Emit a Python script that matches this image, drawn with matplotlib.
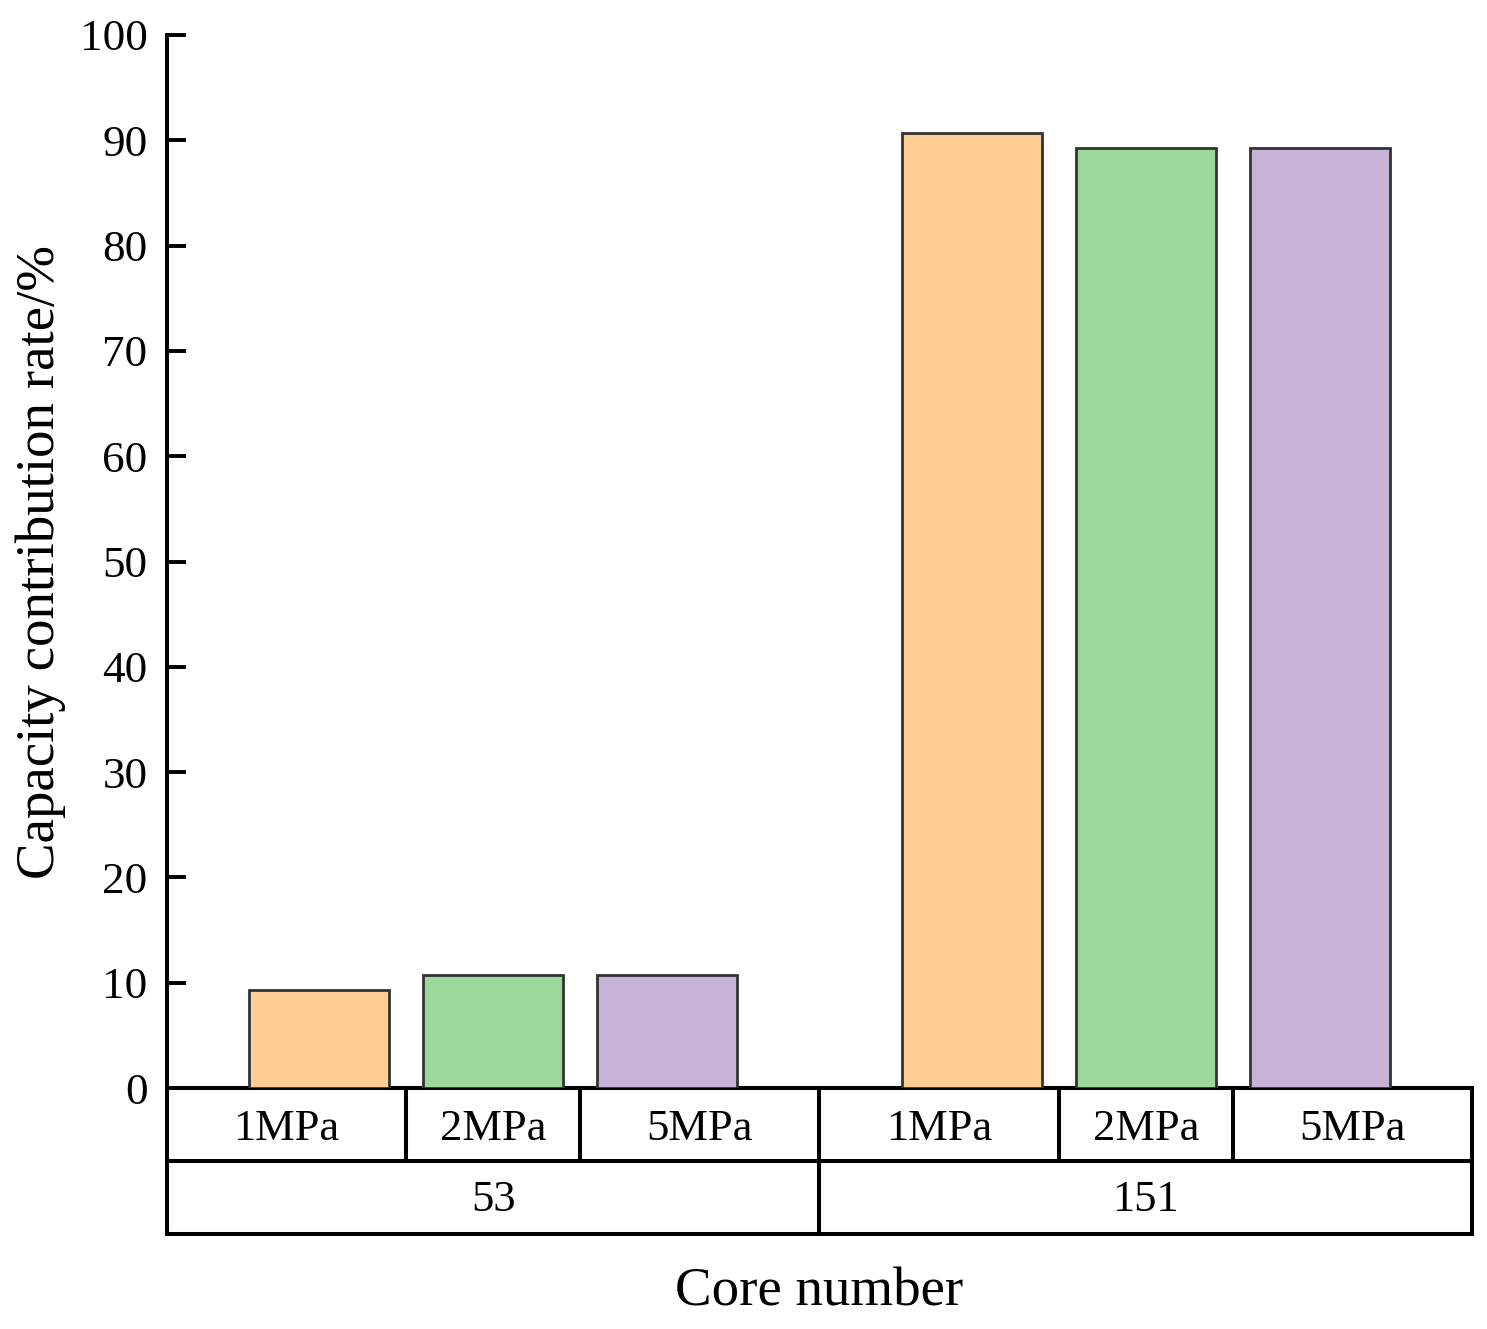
import matplotlib
matplotlib.use("Agg")
from matplotlib import pyplot as plt
from matplotlib import transforms

plt.rcParams['font.family'] = ['Liberation Serif', 'DejaVu Serif']

cores = ["53", "151"]
pressures = ["1MPa", "2MPa", "5MPa"]
vals_1mpa = [9.3, 90.7]
vals_2mpa = [10.7, 89.3]
vals_5mpa = [10.7, 89.3]
colors = ["#FFCE94", "#9DD89B", "#C6B3D7"]

fig = plt.figure(figsize=(14.87, 13.29), dpi=100)
ax = fig.add_axes([0.1123, 0.1813, 0.8776, 0.7924])

group_w = 3.75
centers = [group_w / 2, group_w * 1.5]
series = [vals_1mpa, vals_2mpa, vals_5mpa]
for i, vals in enumerate(series):
    xs = [c + (i - 1) for c in centers]
    ax.bar(xs, vals, width=0.805, color=colors[i], edgecolor="#333333", linewidth=2, zorder=3)

ax.set_xlim(0, group_w * 2)
ax.set_ylim(0, 100)
ax.set_yticks(range(0, 101, 10))
ax.tick_params(axis='y', direction='in', length=14, width=2.8, labelsize=32.5, pad=14)
ax.set_xticks([])
for s in ["top", "right", "bottom"]:
    ax.spines[s].set_visible(False)
ax.spines["left"].set_linewidth(2.9)
ax.set_ylabel("Capacity contribution rate/%", fontsize=39.5, labelpad=10)

# category table under the axis
trans = transforms.blended_transform_factory(ax.transData, ax.transAxes)
rh = 0.0693
lw = 2.9
kw = dict(transform=trans, color="black", linewidth=lw, clip_on=False, solid_capstyle="projecting")
x0, x1 = 0, group_w * 2
for y in [0, -rh, -2 * rh]:
    ax.plot([x0, x1], [y, y], **kw)
ax.plot([x0, x0], [0, -2 * rh], **kw)
ax.plot([x1, x1], [0, -2 * rh], **kw)
ax.plot([group_w, group_w], [0, -2 * rh], **kw)
for c in centers:
    for d in [-0.5, 0.5]:
        ax.plot([c + d, c + d], [0, -rh], **kw)
    # cell text for pressures
    edges = [c - group_w / 2, c - 0.5, c + 0.5, c + group_w / 2]
    for j, p in enumerate(pressures):
        ax.text((edges[j] + edges[j + 1]) / 2, -rh / 2 - 0.004, p, transform=trans,
                ha="center", va="center", fontsize=32)
for c, name in zip(centers, cores):
    ax.text(c, -1.5 * rh - 0.002, name, transform=trans, ha="center", va="center", fontsize=32)

ax.text(group_w, -2 * rh - 0.055, "Core number", transform=trans, ha="center", va="center", fontsize=39.5)

fig.savefig("out.png", dpi=100)
